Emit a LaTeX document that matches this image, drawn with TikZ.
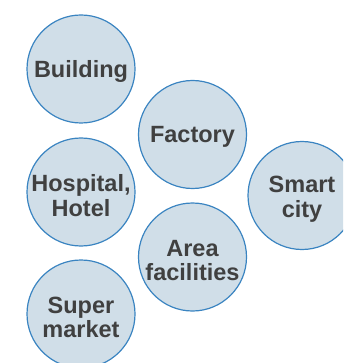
\documentclass[tikz,border=0pt]{standalone}
\usepackage{fontspec}
\setmainfont{Liberation Sans}
\usepackage{tikz}
\usetikzlibrary{positioning}

\definecolor{bubblefill}{HTML}{D0DEE8}
\definecolor{bubbleline}{HTML}{3A84C1}
\definecolor{bubbletext}{HTML}{404040}

\begin{document}
\begin{tikzpicture}[x=1pt, y=-1pt,
        bubble/.style={circle, draw=bubbleline, fill=bubblefill, line width=1.2pt,
            minimum size=108pt, inner sep=0pt, align=center, text=bubbletext,
            font=\fontsize{23.5}{24.5}\selectfont\bfseries},
        label/.style={yshift=-3.5pt}]

        % fester Rahmen (Bildgroesse)
        \useasboundingbox (0,0) rectangle (343,363);
        \clip (0,0) rectangle (343,363);

        % linke Spalte
        \node[bubble] (building) at (81,69) {};
        \node[bubble] (hospital) at (81,192) {};
        \node[bubble] (market) at (81,314) {};

        % mittlere Spalte
        \node[bubble] (factory) at (192.5,134.5) {};
        \node[bubble] (area) at (192.5,257) {};

        % rechts
        \node[bubble] (city) at (302,195.5) {};

        % Beschriftungen
        \node[bubble, draw=none, fill=none, label, yshift=1.5pt] (buildingtext) at (building) {Building};
        \node[bubble, draw=none, fill=none, label] (hospitaltext) at (hospital) {Hospital,\\Hotel};
        \node[bubble, draw=none, fill=none, label] (markettext) at (market) {Super\\market};
        \node[bubble, draw=none, fill=none, label, yshift=1.5pt] (factorytext) at (factory) {Factory};
        \node[bubble, draw=none, fill=none, label] (areatext) at (area) {Area\\facilities};
        \node[bubble, draw=none, fill=none, label] (citytext) at (city) {Smart\\city};

    \end{tikzpicture}
\end{document}
